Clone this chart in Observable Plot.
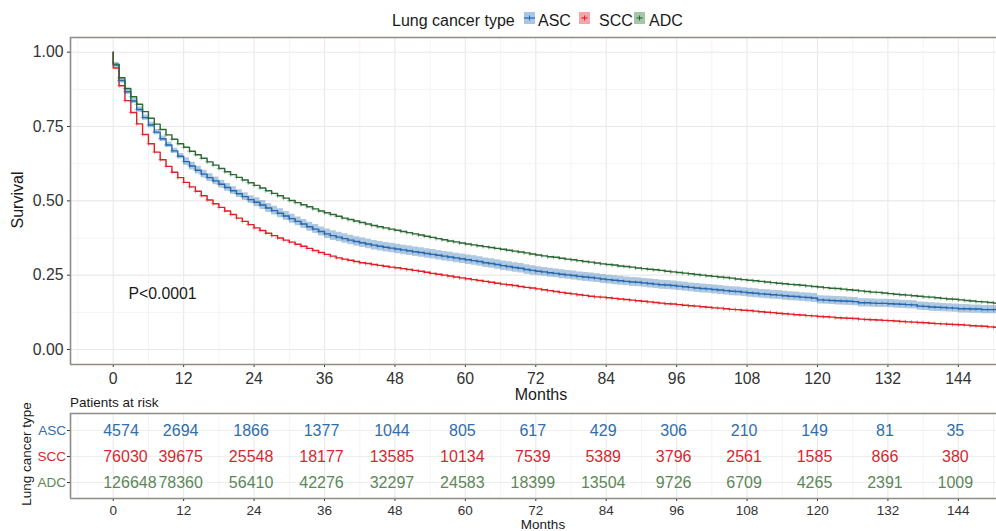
<!DOCTYPE html>
<html><head><meta charset="utf-8">
<script src="https://cdn.jsdelivr.net/npm/d3@7"></script>
<script src="https://cdn.jsdelivr.net/npm/@observablehq/plot@0.6"></script>
<style>
body{margin:0;background:#fff;font-family:"Liberation Sans",Arial,Helvetica,sans-serif;}
#wrap{position:relative;width:996px;height:531px;overflow:hidden;background:#fff;}
#wrap svg{position:absolute;left:0;}
</style></head><body><div id="wrap"></div>
<script>
// ---------- data ----------
const types = ["ASC", "SCC", "ADC"];
// Kaplan-Meier survival at each month 0..150
const asc = [0.957,0.905,0.867,0.836,0.807,0.780,0.755,0.731,0.709,0.688,0.668,0.650,0.632,
 0.617,0.603,0.590,0.578,0.567,0.556,0.545,0.534,0.524,0.514,0.504,0.495,
 0.486,0.476,0.467,0.458,0.449,0.440,0.431,0.422,0.413,0.405,0.397,0.389,
 0.383,0.378,0.373,0.368,0.363,0.359,0.355,0.351,0.347,0.344,0.341,0.338,
 0.335,0.332,0.329,0.326,0.323,0.320,0.317,0.314,0.311,0.308,0.305,0.302,
 0.299,0.296,0.292,0.289,0.286,0.282,0.279,0.276,0.273,0.269,0.266,0.263,
 0.261,0.258,0.256,0.253,0.251,0.249,0.246,0.244,0.242,0.240,0.237,0.235,
 0.233,0.231,0.229,0.227,0.226,0.224,0.222,0.220,0.218,0.217,0.215,0.213,
 0.211,0.209,0.207,0.205,0.204,0.202,0.200,0.198,0.196,0.195,0.193,0.191,
 0.189,0.187,0.186,0.184,0.183,0.181,0.179,0.178,0.176,0.175,0.173,0.167,
 0.166,0.165,0.164,0.163,0.162,0.161,0.157,0.157,0.156,0.155,0.155,0.154,
 0.153,0.152,0.151,0.150,0.146,0.145,0.143,0.142,0.141,0.140,0.139,0.137,
 0.137,0.136,0.136,0.134,0.134,0.134];
const scc = [0.947,0.887,0.837,0.797,0.759,0.723,0.692,0.664,0.638,0.616,0.596,0.578,0.562,
 0.547,0.532,0.517,0.503,0.490,0.478,0.466,0.454,0.442,0.431,0.420,0.409,
 0.400,0.391,0.383,0.375,0.368,0.361,0.354,0.347,0.340,0.333,0.326,0.320,
 0.314,0.308,0.304,0.300,0.296,0.292,0.289,0.286,0.283,0.280,0.277,0.275,
 0.272,0.269,0.266,0.263,0.260,0.256,0.253,0.250,0.247,0.244,0.241,0.238,
 0.235,0.232,0.229,0.226,0.223,0.220,0.218,0.215,0.212,0.209,0.207,0.204,
 0.201,0.198,0.195,0.192,0.189,0.187,0.184,0.182,0.179,0.177,0.176,0.174,
 0.172,0.170,0.168,0.166,0.164,0.162,0.160,0.158,0.156,0.154,0.153,0.151,
 0.149,0.147,0.146,0.144,0.142,0.140,0.139,0.137,0.135,0.134,0.132,0.131,
 0.129,0.127,0.125,0.124,0.122,0.120,0.119,0.117,0.116,0.114,0.113,0.111,
 0.110,0.109,0.107,0.106,0.105,0.104,0.102,0.101,0.100,0.099,0.098,0.097,
 0.096,0.094,0.093,0.092,0.091,0.090,0.088,0.087,0.086,0.085,0.084,0.083,
 0.082,0.080,0.079,0.078,0.076,0.075];
const adc = [0.960,0.914,0.878,0.850,0.825,0.800,0.778,0.758,0.740,0.722,0.707,0.692,0.680,
 0.667,0.655,0.643,0.631,0.620,0.609,0.598,0.588,0.579,0.570,0.561,0.552,
 0.543,0.534,0.525,0.517,0.509,0.501,0.494,0.487,0.480,0.473,0.466,0.460,
 0.454,0.448,0.442,0.437,0.432,0.427,0.422,0.417,0.413,0.409,0.405,0.401,
 0.397,0.393,0.389,0.385,0.381,0.377,0.373,0.369,0.365,0.362,0.358,0.355,
 0.352,0.349,0.346,0.343,0.340,0.337,0.334,0.331,0.328,0.325,0.321,0.318,
 0.315,0.312,0.310,0.307,0.304,0.302,0.299,0.296,0.294,0.291,0.288,0.286,
 0.284,0.281,0.279,0.277,0.274,0.272,0.270,0.268,0.266,0.263,0.261,0.259,
 0.257,0.255,0.252,0.250,0.248,0.246,0.244,0.242,0.240,0.237,0.235,0.233,
 0.231,0.229,0.227,0.225,0.223,0.221,0.219,0.218,0.216,0.214,0.212,0.210,
 0.208,0.206,0.205,0.203,0.201,0.199,0.197,0.195,0.193,0.192,0.190,0.188,
 0.186,0.184,0.183,0.181,0.179,0.177,0.176,0.174,0.172,0.170,0.169,0.167,
 0.165,0.163,0.161,0.160,0.158,0.156];
// half-width of the ASC confidence band, one value per 12-month interval
const ascBandHalfWidth = [0.009,0.013,0.015,0.016,0.016,0.016,0.015,0.015,0.015,0.015,0.014,0.014,0.014];

const riskTimes = [0,12,24,36,48,60,72,84,96,108,120,132,144];
const riskASC = [4574,2694,1866,1377,1044,805,617,429,306,210,149,81,35];
const riskSCC = [76030,39675,25548,18177,13585,10134,7539,5389,3796,2561,1585,866,380];
const riskADC = [126648,78360,56410,42276,32297,24583,18399,13504,9726,6709,4265,2391,1009];

const yTicks = [0, 0.25, 0.5, 0.75, 1];
const yMinorTicks = [0.125, 0.375, 0.625, 0.875];
const xMinorTicks = [-6,6,18,30,42,54,66,78,90,102,114,126,138,150];
const pValueLabel = {text: "P<0.0001", x: 2.6, y: 0.188};

// ---------- styling ----------
const FONT = '"Liberation Sans", Arial, Helvetica, sans-serif';
const lineColors = ["#2569b0", "#e41e26", "#2b6a34"];
const riskColors = ["#2f6eaa", "#d42a2f", "#5c8758"];
const xDomain = [-7.28, 150.5];
const yDomain = [-0.0505, 1.0494];
const axisGray = "#8f8b87";

// ---------- derived tables ----------
const survival = {ASC: asc, SCC: scc, ADC: adc};
const curveRows = types.flatMap(type => {
  const v = survival[type];
  return [{type, t: 0, s: 1}, ...v.map((s, i) => ({type, t: i, s})), {type, t: xDomain[1] + 1, s: v[v.length - 1]}];
});
const censorRows = types.flatMap(type => survival[type].map((s, i) => ({type, t: i, s})).filter(d => d.t > 0));
const bandRows = asc.map((s, i) => ({t: i, lo: s - ascBandHalfWidth[Math.floor(i / 12)], hi: s + ascBandHalfWidth[Math.floor(i / 12)]}));
bandRows.push({...bandRows[bandRows.length - 1], t: xDomain[1] + 1});
const riskBy = {ASC: riskASC, SCC: riskSCC, ADC: riskADC};
const riskRows = types.flatMap(type => riskTimes.map((t, i) => ({type, t, n: String(riskBy[type][i])})));

const wrap = document.getElementById("wrap");

// ---------- main survival plot ----------
const main = Plot.plot({
  width: 996, height: 400,
  marginTop: 37, marginBottom: 36, marginLeft: 70, marginRight: 0,
  style: {fontFamily: FONT, fontSize: "15.8px", color: "#333", background: "transparent"},
  x: {domain: xDomain},
  y: {domain: yDomain},
  color: {domain: types, range: lineColors},
  marks: [
    Plot.gridX(xMinorTicks, {stroke: "#f1f1f1", strokeOpacity: 1, strokeWidth: 0.8}),
    Plot.gridX(riskTimes, {stroke: "#e9e9e9", strokeOpacity: 1, strokeWidth: 1.1}),
    Plot.gridY(yMinorTicks, {stroke: "#f1f1f1", strokeOpacity: 1, strokeWidth: 0.8}),
    Plot.gridY(yTicks, {stroke: "#e9e9e9", strokeOpacity: 1, strokeWidth: 1.1}),
    Plot.areaY(bandRows, {x: "t", y1: "lo", y2: "hi", curve: "step-after", fill: lineColors[0], fillOpacity: 0.36, clip: true}),
    Plot.line(curveRows, {x: "t", y: "s", z: "type", stroke: "type", curve: "step-after", strokeWidth: 1.4, clip: true}),
    Plot.dot(censorRows, {x: "t", y: "s", stroke: "type", symbol: "plus", r: 1.5, strokeWidth: 0.9, strokeOpacity: 0.5, clip: true}),
    Plot.text([pValueLabel], {x: "x", y: "y", text: "text", textAnchor: "start", fontSize: 15.8, fill: "#1a1a1a"}),
    Plot.axisX(riskTimes, {tickSize: 3, tickPadding: 5, label: null, fontSize: 15.8, stroke: "#333"}),
    Plot.axisY(yTicks, {tickSize: 3, tickPadding: 4, label: null, fontSize: 15.8, tickFormat: d3.format(".2f"), stroke: "#333"}),
    Plot.ruleY([yDomain[0]], {stroke: axisGray, strokeWidth: 1.6}),
    Plot.ruleY([yDomain[1]], {stroke: axisGray, strokeWidth: 1.6}),
    Plot.ruleX([xDomain[0]], {stroke: axisGray, strokeWidth: 1.6})
  ]
});
main.style.top = "0px";
wrap.appendChild(main);

// ---------- risk table ----------
const risk = Plot.plot({
  width: 996, height: 131,
  marginTop: 13, marginBottom: 33, marginLeft: 70, marginRight: 0,
  style: {fontFamily: FONT, fontSize: "13.5px", color: "#333", background: "transparent"},
  x: {domain: xDomain},
  y: {type: "point", domain: types, padding: 0.6},
  color: {domain: types, range: riskColors},
  marks: [
    Plot.gridX(xMinorTicks, {stroke: "#f1f1f1", strokeOpacity: 1, strokeWidth: 0.8}),
    Plot.gridX(riskTimes, {stroke: "#e9e9e9", strokeOpacity: 1, strokeWidth: 1.1}),
    Plot.gridY(types, {stroke: "#eeeeee", strokeOpacity: 1, strokeWidth: 1.1}),
    Plot.text(riskRows.filter(d => d.t === riskTimes[0]), {x: "t", y: "type", text: "n", fill: "type", textAnchor: "start", dx: -10, fontSize: 16}),
    Plot.text(riskRows.filter(d => d.t !== riskTimes[0]), {x: "t", y: "type", text: "n", fill: "type", textAnchor: "middle", dx: -3, fontSize: 16}),
    Plot.text(types, {y: d => d, text: d => d, fill: d => d, frameAnchor: "left", textAnchor: "end", dx: -4.5, fontSize: 13.5}),
    Plot.axisX(riskTimes, {tickSize: 3, tickPadding: 4, label: null, fontSize: 13.5, stroke: "#333"}),
    Plot.axisY(types, {tickSize: 3, label: null, tickFormat: () => "", stroke: "#333"}),
    Plot.ruleX([xDomain[0]], {stroke: axisGray, strokeWidth: 1.6})
  ]
});
risk.style.top = "400px";
wrap.appendChild(risk);
// top & bottom border lines of the risk panel
const riskBorder = Plot.plot({
  width: 996, height: 131, marginTop: 13, marginBottom: 33, marginLeft: 70, marginRight: 0,
  style: {background: "transparent"},
  x: {domain: xDomain, axis: null}, y: {domain: [0, 1], axis: null},
  marks: [Plot.ruleY([0, 1], {stroke: axisGray, strokeWidth: 1.6})]
});
riskBorder.style.top = "400px";
wrap.appendChild(riskBorder);

// ---------- titles and legend ----------
const NS = "http://www.w3.org/2000/svg";
const over = document.createElementNS(NS, "svg");
over.setAttribute("width", 996); over.setAttribute("height", 531);
over.style.top = "0px"; over.style.pointerEvents = "none";
over.style.fontFamily = FONT;
wrap.appendChild(over);
function txt(s, x, y, size, opts = {}) {
  const t = document.createElementNS(NS, "text");
  t.textContent = s;
  t.setAttribute("x", x); t.setAttribute("y", y);
  t.setAttribute("font-size", size);
  t.setAttribute("fill", opts.fill || "#1a1a1a");
  if (opts.anchor) t.setAttribute("text-anchor", opts.anchor);
  if (opts.rotate) t.setAttribute("transform", `rotate(-90 ${x} ${y})`);
  over.appendChild(t);
  return t;
}
function el(name, attrs) {
  const e = document.createElementNS(NS, name);
  for (const k in attrs) e.setAttribute(k, attrs[k]);
  over.appendChild(e);
  return e;
}
txt("Survival", 22.5, 200, 16, {anchor: "middle", rotate: true});
txt("Months", 541, 400, 16, {anchor: "middle"});
txt("Patients at risk", 70, 407, 13.5);
txt("Lung cancer type", 31, 454, 13.5, {anchor: "middle", rotate: true});
txt("Months", 543, 529, 13.5, {anchor: "middle"});

// legend
const legendTitle = "Lung cancer type";
txt(legendTitle, 392, 26, 16);
const legendKeys = [
  {label: "ASC", box: 524, text: 538, fill: "#a9c6e4"},
  {label: "SCC", box: 579, text: 599, fill: "#f5a6aa"},
  {label: "ADC", box: 634, text: 649, fill: "#a6c6a6"}
];
legendKeys.forEach((k, i) => {
  el("rect", {x: k.box, y: 12, width: 11, height: 12, fill: k.fill});
  el("line", {x1: k.box + (i === 0 ? 0 : 2.5), x2: k.box + (i === 0 ? 11 : 8.5), y1: 18, y2: 18, stroke: lineColors[i], "stroke-width": 1.2});
  el("line", {x1: k.box + 5.5, x2: k.box + 5.5, y1: 15.5, y2: 20.5, stroke: lineColors[i], "stroke-width": 1});
  txt(k.label, k.text, 26, 16);
});
</script>
</body></html>
